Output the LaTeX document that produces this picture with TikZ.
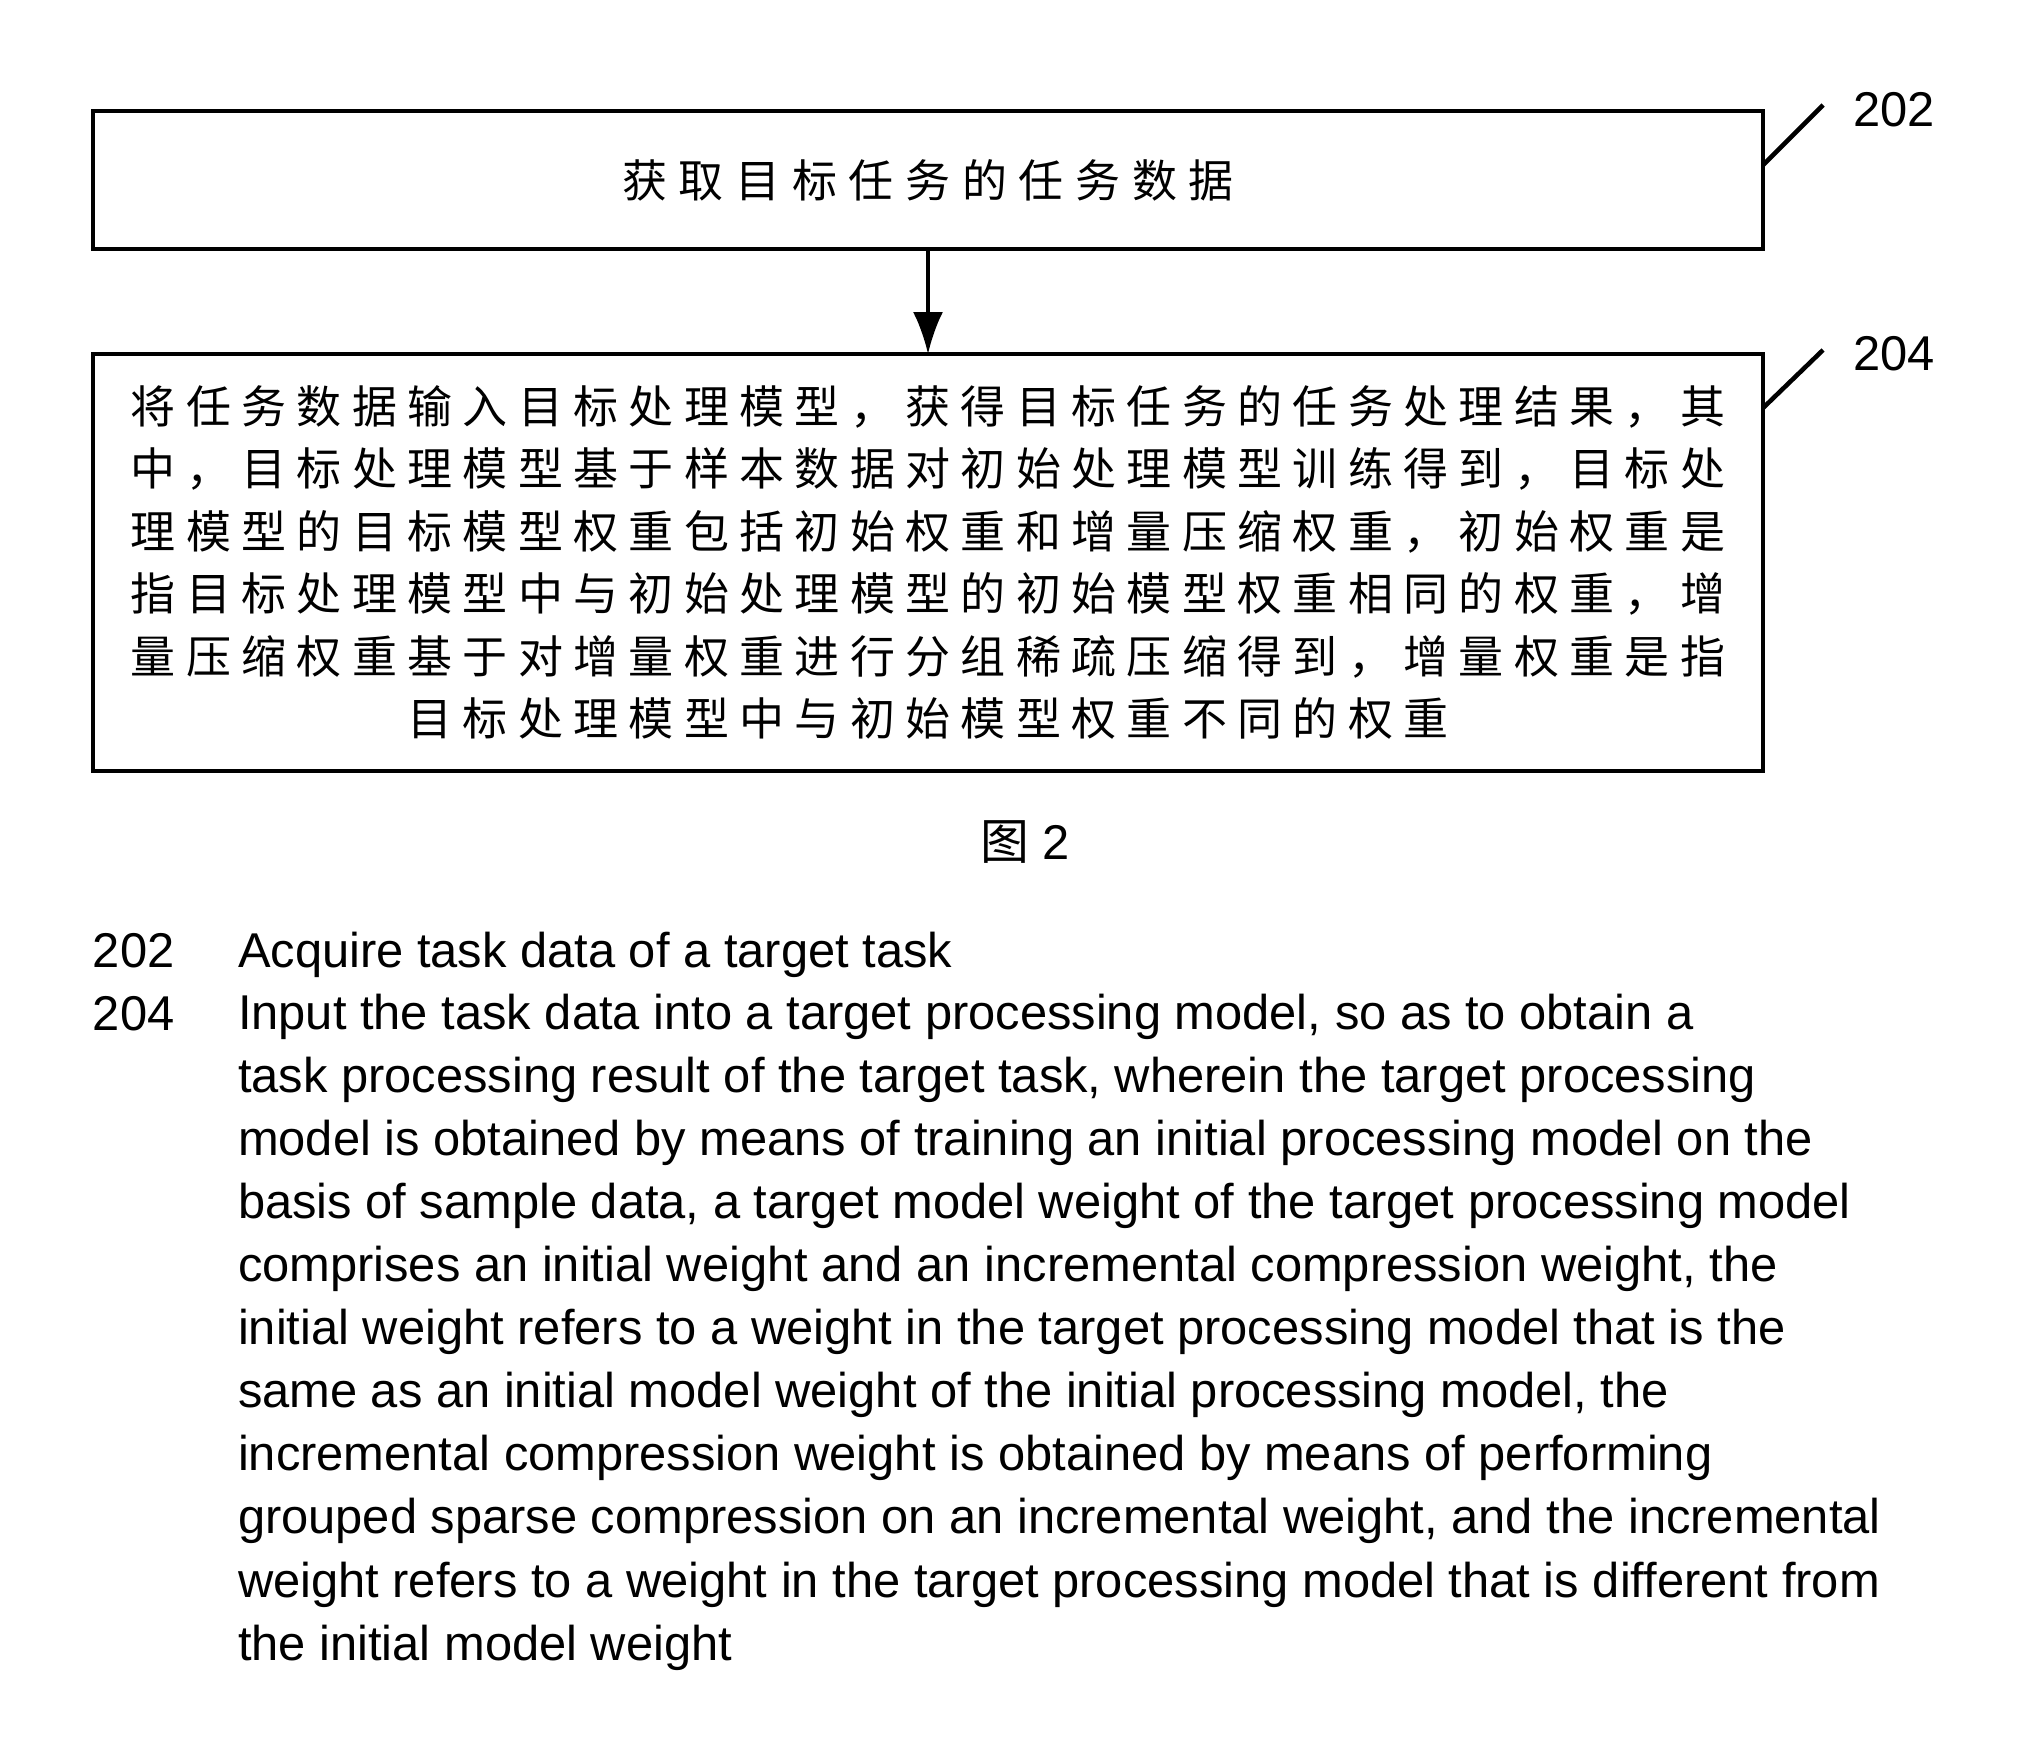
\documentclass[tikz,border=0pt]{standalone}
\usepackage{fontspec}
\setmainfont{Liberation Sans}
\newfontfamily\cjkwide[LetterSpace=26]{Noto Sans CJK SC}
\newfontfamily\cjkmid[LetterSpace=23]{Noto Sans CJK SC}
\newfontfamily\cjk{Noto Sans CJK SC}
\usetikzlibrary{positioning,arrows.meta}

\begin{document}
\begin{tikzpicture}[inner sep=0pt,outer sep=0pt,
stepbox/.style={draw,rectangle,line width=1.3pt,minimum width=16.70cm},
en/.style={font=\fontsize{13.9}{17.93}\selectfont,align=left,anchor=base west},
numlabel/.style={font=\fontsize{13.9}{16}\selectfont}]
\useasboundingbox[fill=white] (0,0) rectangle (20.21,-17.46);
\draw (9.28,-1.80) node[stepbox,minimum height=1.38cm,font=\cjkwide\fontsize{12.8}{17.8}\selectfont] (s202) {获取目标任务的任务数据};
\draw (9.28,-5.625) node[stepbox,minimum height=4.17cm,font=\cjkmid\fontsize{12.8}{17.8}\selectfont,align=center] (s204) {%
将任务数据输入目标处理模型，获得目标任务的任务处理结果，其\\
中，目标处理模型基于样本数据对初始处理模型训练得到，目标处\\
理模型的目标模型权重包括初始权重和增量压缩权重，初始权重是\\
指目标处理模型中与初始处理模型的初始模型权重相同的权重，增\\
量压缩权重基于对增量权重进行分组稀疏压缩得到，增量权重是指\\
目标处理模型中与初始模型权重不同的权重};
\draw[-{Latex[length=4.2mm,width=3mm]},line width=0.9pt] (s202) -- (s204);

% reference numerals
\coordinate (t202) at (18.23,-1.05);
\coordinate (t204) at (18.23,-3.50);
\draw[line width=1.3pt] (s202.north east) ++(0,-0.54) -- (t202);
\draw[line width=1.3pt] (s204.north east) ++(0,-0.54) -- (t204);
\node[right=0.3cm of t202,numlabel,yshift=-0.05cm] (l202) {202};
\node[right=0.3cm of t204,numlabel,yshift=-0.04cm] (l204) {204};

\node[numlabel] (fig) at (10.25,-8.42) {{\cjk 图} 2};

% legend (base of a multi-line node is its last line)
\node[en] (n202) at (0.93,-9.67) {202};
\node[en] (e202) at (2.38,-9.67) {Acquire task data of a target task};
\node[en] (n204) at (0.93,-10.30) {204};
\node[en] (e204) at (2.38,-16.60) {Input the task data into a target processing model, so as to obtain a\\
task processing result of the target task, wherein the target processing\\
model is obtained by means of training an initial processing model on the\\
basis of sample data, a target model weight of the target processing model\\
comprises an initial weight and an incremental compression weight, the\\
initial weight refers to a weight in the target processing model that is the\\
same as an initial model weight of the initial processing model, the\\
incremental compression weight is obtained by means of performing\\
grouped sparse compression on an incremental weight, and the incremental\\
weight refers to a weight in the target processing model that is different from\\
the initial model weight};
\end{tikzpicture}
\end{document}
